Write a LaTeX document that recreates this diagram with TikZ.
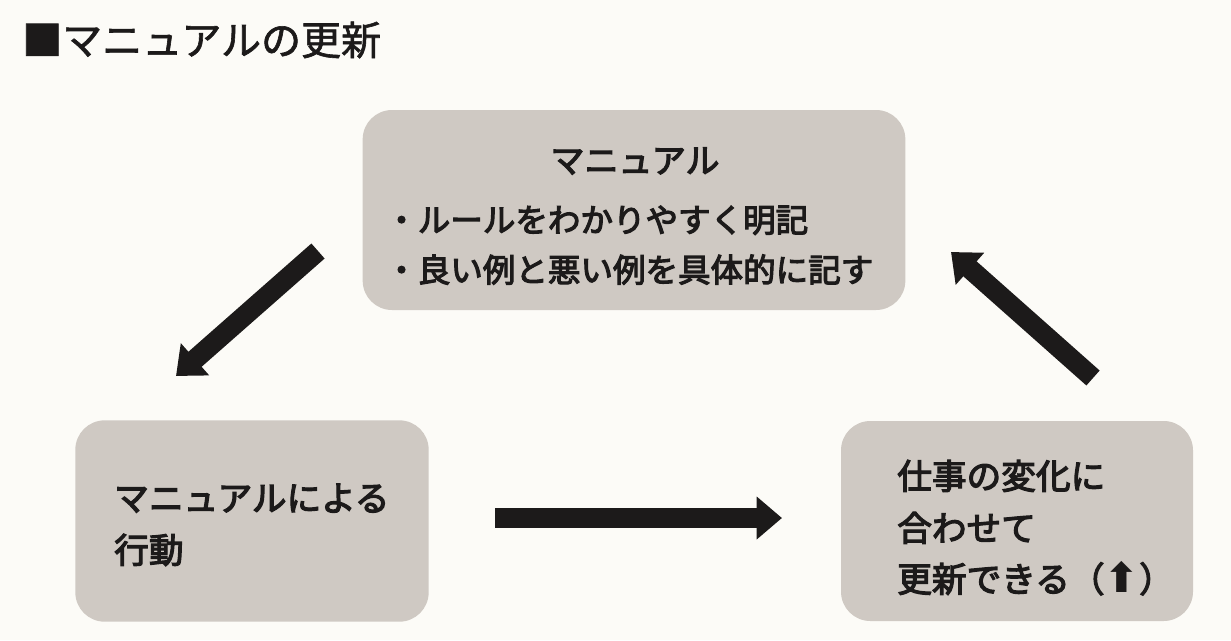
\documentclass[tikz,border=0pt]{standalone}
\usepackage{fontspec}
\usetikzlibrary{arrows.meta}
\newfontfamily\jp{Noto Sans CJK JP}[FakeBold=3.5]
\newfontfamily\jptitle{Noto Sans CJK JP}[FakeBold=1.5]
\newfontfamily\dejavu{DejaVu Sans}
\definecolor{paper}{RGB}{252,251,247}
\definecolor{boxfill}{RGB}{207,201,195}
\definecolor{ink}{RGB}{28,26,26}
\tikzset{
  box/.style={draw=none, fill=boxfill, rounded corners=22pt, inner sep=0pt},
  txt/.style={inner sep=0pt, text=ink, anchor=base west},
  bigarrow/.style={draw=ink, line width=15pt, -{Triangle[width=31pt,length=19pt]}}
}
\newcommand{\upmark}{{\dejavu\bfseries\fontsize{31pt}{30pt}\selectfont ⬆}}
\begin{document}
\begin{tikzpicture}[x=0.75pt, y=-0.75pt]
\fill[paper] (0,0) rectangle (1231,640);
\useasboundingbox (0,0) rectangle (1231,640);

% title
\node[txt] (title) at (22,55) {\jptitle\fontsize{30pt}{36pt}\selectfont ■マニュアルの更新};

% boxes
\node[box, minimum width=407pt, minimum height=150pt] (manual) at (634,210) {};
\node[box, minimum width=265pt, minimum height=151pt] (action) at (252,521) {};
\node[box, minimum width=264pt, minimum height=150pt] (update) at (1017,521) {};

% texts in top box
\node[txt, anchor=base] (mtitle) at (635,173) {\jp\fontsize{25.5pt}{30pt}\selectfont マニュアル};
\node[txt] (m1) at (385,232) {\jp\fontsize{24.4pt}{30pt}\selectfont ・ルールをわかりやすく明記};
\node[txt] (m2) at (385,282) {\jp\fontsize{24.4pt}{30pt}\selectfont ・良い例と悪い例を具体的に記す};

% texts in left box
\node[txt] (a1) at (114,511) {\jp\fontsize{26pt}{30pt}\selectfont マニュアルによる};
\node[txt] (a2) at (114,563) {\jp\fontsize{26pt}{30pt}\selectfont 行動};

% texts in right box
\node[txt] (u1) at (897,489) {\jp\fontsize{26pt}{30pt}\selectfont 仕事の変化に};
\node[txt] (u2) at (897,541) {\jp\fontsize{26pt}{30pt}\selectfont 合わせて};
\node[txt] (u3) at (897,592) {\jp\fontsize{26pt}{30pt}\selectfont 更新できる（\upmark）};

% arrows
\coordinate (p1s) at (318,251);
\coordinate (p1e) at (176,376);
\coordinate (p2s) at (495,518);
\coordinate (p2e) at (782,518);
\coordinate (p3s) at (1093,378);
\coordinate (p3e) at (951,252);
\draw[bigarrow] (p1s) -- (p1e);
\draw[bigarrow] (p2s) -- (p2e);
\draw[bigarrow] (p3s) -- (p3e);
\end{tikzpicture}
\end{document}
